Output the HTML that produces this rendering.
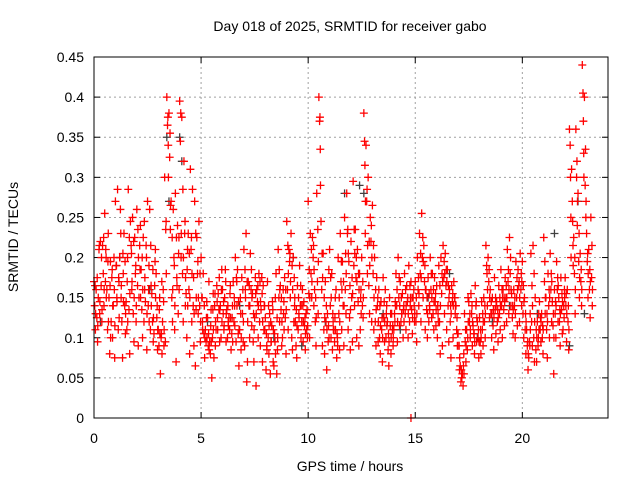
<!DOCTYPE html>
<html><head><meta charset="utf-8"><style>
body{margin:0;background:#fff}
svg{display:block;font-family:"Liberation Sans",sans-serif}
</style></head><body>
<svg id="chart" width="640" height="480" viewBox="0 0 640 480">
<rect width="640" height="480" fill="#fff"/>
<g id="grid"></g>
<g id="ticks"></g>
<g id="grey"></g>
<g id="red"></g>
<rect x="94" y="57" width="514" height="361" fill="none" stroke="#000" stroke-width="1"/>
<text x="350" y="31" font-size="14" text-anchor="middle">Day 018 of 2025, SRMTID for receiver gabo</text>
<text x="350" y="471" font-size="14" text-anchor="middle">GPS time / hours</text>
<text transform="translate(18,237) rotate(-90)" font-size="14" text-anchor="middle">SRMTID / TECUs</text>
</svg>
<script>
const xTicks=[0,5,10,15,20];
const yTicks=[0,0.05,0.1,0.15,0.2,0.25,0.3,0.35,0.4,0.45];
const yTickLabels=["0","0.05","0.1","0.15","0.2","0.25","0.3","0.35","0.4","0.45"];
const rowStep=0.1;
const redRows=[
"170 140 110","160 125 95","150 210 130","220 165 120","215 180 140","255 170 200","160 110 230","150 80 195","120 175 100","140 200 75",
"270 190 150","285 110 170","200 260 150","120 75 180","230 140 105","145 110 200","285 135 80","245 215 160","250 130 95","225 180 120",
"260 165 90","150 215 240","185 135 100","225 120 160","145 215 85","270 140 190","260 110 165","155 120 95","105 165 210","180 125 85",
"110 90 150","55 100 170","120 160 90","300 95 245","400 365 340","380 325 235","270 150 120","260 200 110","280 70 175","240 130 225",
"395 345 200","375 180 120","320 230 140","155 100 210","230 160 80","310 210 120","285 140 90","270 65 135","225 180 130","245 140 95",
"200 150 120","180 105 75","110 95 145","125 90 170","95 80 135","50 100 155","75 140 90","110 165 125","155 135 95","140 100 185",
"160 130 110","150 185 95","135 100 120","125 110 165","85 105 140","170 120 140","200 95 170","185 105 65","110 150 85","175 130 95",
"210 90 160","230 45 70","170 140 100","205 160 115","155 95 70","125 175 40","160 145 100","180 120 90","135 175 70","165 110 140",
"125 60 90","170 100 80","130 55 95","115 145 70","65 105 150","180 55 85","210 150 120","165 135 90","100 160 145","175 125 80",
"245 160 110","210 195 150","230 100 85","200 120 140","120 90 75","165 110 130","190 140 100","120 160 95","145 115 85","130 110 100",
"270 155 100","230 180 150","225 200 140","160 120 90","280 170 130","400 370 335","245 160 90","205 110 80","170 120 60","130 95 185",
"210 140 100","180 85 120","110 95 150","160 75 100","200 130 85","230 170 110","195 140 90","250 160 130","280 230 110","195 125 85",
"220 150 95","295 190 140","235 175 100","210 145 90","180 110 160","200 140 125","380 345 230","340 270 180","300 165 130","250 220 120",
"265 180 110","200 120 90","175 140 95","160 100 80","145 110 70","175 125 95","160 100 140","120 85 65","150 115 80","130 110 90",
"110 130 145","180 140 95","200 150 115","170 120 130","155 100 140","180 130 110","165 145 100","190 120 140","170 135 105","150 160 120",
"170 120 95","200 160 140","230 180 120","255 200 150","215 170 110","160 135 100","175 120 140","200 160 125","180 130 110","175 145 115",
"165 100 130","190 120 80","200 155 90","215 175 130","205 165 110","185 140 95","160 120 75","165 145 100","170 150 130","140 110 90",
"105 90 60","65 45 50","55 40 80","130 95 70","110 85 150","145 120 100","155 130 90","115 105 80","165 140 95","120 100 75",
"125 95 80","145 110 90","150 120 100","215 190 140","200 170 125","160 130 100","150 115 85","175 135 105","145 120 95","165 130 110",
"185 140 100","160 135 115","175 150 120","210 170 130","225 180 140","155 125 105","160 140 100","195 150 115","185 165 120","205 160 140",
"195 130 100","150 110 80","110 90 60","75 95 130","205 120 90","215 100 70","150 85 70","120 90 130","145 110 95","130 100 80",
"225 170 130","150 110 75","180 140 100","205 160 120","145 115 55","160 130 100","195 160 120","150 120 90","175 135 105","110 140 160",
"175 140 95","160 120 85","360 340 250","310 270 215","225 180 130","360 300 240","280 195 150","205 170 140","440 405 330","400 290 250",
"230 195 150","210 160 125","250 175 140"];
const redRows2=[
"165 130","175 115","215 145","200 135","225 160","210 150","195 120","165 100","185 140","160 115",
"190 145","175 125","230 165","205 145","195 130","170 120","225 155","205 170","220 150","190 140",
"235 200","185 150","200 160","245 175","200 130","160 120","215 140","185 125","195 150","140 110",
"135 105","105 80","145 110","235 180","375 300","355 265","225 160","190 140","225 165","205 160",
"380 230","285 200","245 175","185 140","205 150","225 180","175 130","230 150","195 150","180 120",
"150 110","140 100","125 100","105 85","115 95","135 110","155 120","145 110","175 135","160 120",
"145 115","170 130","140 115","155 125","125 95","150 115","175 140","145 110","130 100","160 120",
"185 150","170 120","165 140","185 150","130 110","155 130","165 140","170 145","155 120","140 110",
"105 85","140 115","120 95","135 110","95 80","125 100","185 160","150 120","130 110","160 135",
"215 180","205 170","190 160","175 150","135 115","150 125","165 140","140 120","125 105","135 115",
"185 150","210 170","215 185","150 125","235 195","375 290","205 175","150 125","140 110","115 100",
"175 150","130 110","125 110","105 90","150 120","195 160","170 140","205 180","235 205","165 135",
"175 155","235 205","200 170","180 160","150 130","170 150","315 270","285 215","220 190","240 200",
"215 150","160 135","150 120","140 115","125 100","145 120","130 115","105 95","130 100","115 100",
"120 140","160 120","175 140","150 130","135 120","160 140","150 130","165 150","150 125","140 130",
"150 130","175 155","205 175","225 195","190 160","150 130","155 135","180 150","160 145","155 135",
"140 120","165 140","180 170","195 180","185 170","165 150","140 130","155 140","150 140","125 105",
"90 75","60 50","65 55","110 90","100 120","130 110","140 120","105 95","145 125","110 95",
"110 100","130 120","140 130","180 160","185 150","145 130","135 125","150 140","135 125","150 140",
"160 150","150 145","165 150","185 160","200 160","140 135","150 130","175 160","170 150","180 170",
"165 145","130 120","95 80","90 110","165 140","180 120","110 100","100 110","125 120","115 110",
"195 150","130 120","160 150","180 170","130 100","145 140","175 165","135 130","155 145","125 150",
"155 130","140 110","300 200","245 190","200 160","320 270","230 175","185 160","370 300","335 270",
"205 180","185 170","215 160"];
const greyTimes=[0.3,1.2,2.6,3.4,4.1,5.3,6.8,8.4,9.3,10.8,11.7,12.4,13.5,14.3,15.6,16.6,17.9,18.6,19.4,20.7,21.5,22.2,22.9,22.6,3.5,4.0,12.6,9.7];
const greyValues=[0.12,0.2,0.16,0.35,0.32,0.12,0.14,0.1,0.2,0.12,0.28,0.29,0.13,0.11,0.15,0.18,0.1,0.12,0.14,0.13,0.23,0.09,0.13,0.27,0.27,0.35,0.28,0.09];
const outlierTimes=[14.8];
const outlierValues=[0];

const X0=94,X1=608,Y0=418,Y1=57,XMAX=24,YMAX=0.45;
const xs=t=>X0+(X1-X0)*t/XMAX;
const ys=v=>Y0-(Y0-Y1)*v/YMAX;
const NS="http://www.w3.org/2000/svg";
function mk(tag,attrs,parent){const e=document.createElementNS(NS,tag);for(const k in attrs)e.setAttribute(k,attrs[k]);parent.appendChild(e);return e;}
const grid=document.getElementById('grid'),ticks=document.getElementById('ticks');
xTicks.forEach(t=>{const x=xs(t);
 if(t>0){const g=mk('line',{x1:x,x2:x,y1:Y1,y2:Y0,stroke:'#a0a0a0','stroke-dasharray':'2,3'},grid);
 }
 mk('line',{x1:x,x2:x,y1:Y0,y2:Y0-6,stroke:'#000'},ticks);mk('line',{x1:x,x2:x,y1:Y1,y2:Y1+6,stroke:'#000'},ticks);
 const l=mk('text',{x:x,y:443,'font-size':14,'text-anchor':'middle'},ticks);l.textContent=t;
 });
yTicks.forEach((v,i)=>{const y=ys(v);
 if(i>0&&i<yTicks.length-1){const g=mk('line',{x1:X0,x2:X1,y1:y,y2:y,stroke:'#a0a0a0','stroke-dasharray':'2,3'},grid);
 }
 mk('line',{x1:X0,x2:X0+6,y1:y,y2:y,stroke:'#000'},ticks);mk('line',{x1:X1,x2:X1-6,y1:y,y2:y,stroke:'#000'},ticks);
 const l=mk('text',{x:84,y:y+5,'font-size':14,'text-anchor':'end'},ticks);l.textContent=yTickLabels[i];
 });
function plus(t,v,color,parent){const x=xs(t),y=ys(v);
 const p=mk('path',{d:`M${x-4},${y}H${x+4}M${x},${y-4}V${y+4}`,stroke:color,'stroke-width':1.3,fill:'none'},parent);
 }
const gG=document.getElementById('grey'),gR=document.getElementById('red');
greyTimes.forEach((t,i)=>plus(t,greyValues[i],'#404040',gG));
redRows.forEach((row,i)=>{row.split(' ').forEach((s,j)=>{plus(i*rowStep+j*0.033,Number(s)/1000,'#ff0000',gR);});});
redRows2.forEach((row,i)=>{row.split(' ').forEach((s,j)=>{plus(i*rowStep+0.05+j*0.025,Number(s)/1000,'#ff0000',gR);});});
outlierTimes.forEach((t,i)=>plus(t,outlierValues[i],'#ff0000',gR));
</script>
</body></html>
